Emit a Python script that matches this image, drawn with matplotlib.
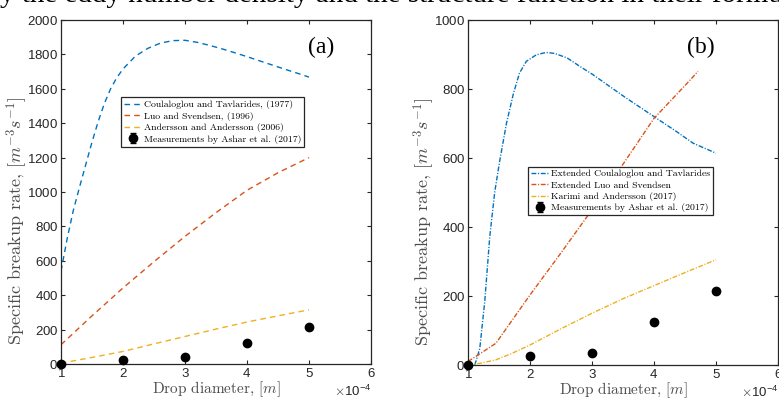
import matplotlib
matplotlib.use('Agg')
import matplotlib.pyplot as plt

plt.rcParams['mathtext.fontset'] = 'cm'
plt.rcParams['axes.formatter.use_mathtext'] = True
plt.rcParams['font.family'] = ['Liberation Sans', 'DejaVu Sans']

blue = '#0072BD'
orange = '#D95319'
yellow = '#EDB120'
dark = '#262626'

# drop diameter in m
# (a) original models
xa_cout = [1.0e-4, 1.1e-4, 1.2e-4, 1.3e-4, 1.4e-4, 1.5e-4, 1.6e-4, 1.7e-4, 1.8e-4, 1.9e-4, 2.0e-4,
           2.2e-4, 2.4e-4, 2.6e-4, 2.8e-4, 3.0e-4, 3.2e-4, 3.4e-4, 3.6e-4, 3.8e-4, 4.0e-4,
           4.2e-4, 4.4e-4, 4.6e-4, 4.8e-4, 5.0e-4]
ya_cout = [540, 730, 895, 1030, 1160, 1290, 1410, 1515, 1600, 1665, 1715,
           1790, 1835, 1865, 1880, 1882, 1870, 1852, 1832, 1810, 1787,
           1763, 1739, 1715, 1692, 1668]
xa_luo = [1e-4, 1.5e-4, 2e-4, 2.5e-4, 3e-4, 3.5e-4, 4e-4, 4.5e-4, 5e-4]
ya_luo = [112, 280, 442, 595, 742, 880, 1010, 1112, 1200]
xa_and = [1e-4, 1.5e-4, 2e-4, 2.5e-4, 3e-4, 3.5e-4, 4e-4, 4.5e-4, 5e-4]
ya_and = [5, 38, 73, 117, 160, 203, 244, 280, 315]

# (b) extended models
xb_cout = [1.11e-4, 1.19e-4, 1.27e-4, 1.35e-4, 1.43e-4, 1.51e-4, 1.62e-4, 1.73e-4, 1.83e-4, 1.94e-4,
           2.1e-4, 2.26e-4, 2.4e-4, 2.6e-4, 2.8e-4, 3.02e-4, 3.28e-4, 3.55e-4, 4.0e-4, 4.36e-4, 4.63e-4, 5.0e-4]
yb_cout = [0, 48, 184, 370, 500, 590, 700, 785, 846, 880,
           899, 906, 903, 890, 866, 841, 808, 774, 720, 677, 643, 614]
xb_luo = [1e-4, 1.45e-4, 2e-4, 2.5e-4, 3e-4, 3.5e-4, 4e-4, 4.5e-4, 4.71e-4]
yb_luo = [10, 63, 203, 325, 450, 582, 715, 810, 851]
xb_kar = [1e-4, 1.2e-4, 1.45e-4, 1.7e-4, 2e-4, 2.5e-4, 3e-4, 3.5e-4, 4e-4, 4.5e-4, 5e-4]
yb_kar = [0, 5, 15, 33, 58, 105, 150, 192, 230, 268, 305]

# measurements by Ashar et al. (2017)
x_meas = [1e-4, 2e-4, 3e-4, 4e-4, 5e-4]
ya_meas = [0, 25, 38, 125, 215]
yb_meas = [0, 26, 36, 126, 215]
err_meas = [0, 0, 0, 0, 0]

fig = plt.figure(figsize=(7.79, 3.98), dpi=100)
axa = fig.add_axes([61/779, 34/398, 310/779, 344/398])
axb = fig.add_axes([468/779, 33/398, 310/779, 345/398])

fig.text(0.0, 1 - 2/398, 'y the eddy number density and the structure function in their formulation',
         family='Liberation Serif', style='normal', weight='normal', fontsize=21,
         va='baseline', ha='left')


def style_axes(ax, ymax, ystep):
    ax.set_xlim(1e-4, 6e-4)
    ax.set_ylim(0, ymax)
    ax.set_xticks([1e-4, 2e-4, 3e-4, 4e-4, 5e-4, 6e-4])
    ax.set_yticks(range(0, ymax + 1, ystep))
    ax.ticklabel_format(axis='x', style='sci', scilimits=(0, 0))
    ax.tick_params(direction='in', top=True, right=True, length=3, width=0.8,
                   colors=dark, labelsize=9.5, pad=2)
    ax.xaxis.get_offset_text().set_fontsize(9.5)
    ax.xaxis.get_offset_text().set_color(dark)
    for s in ax.spines.values():
        s.set_color(dark)
        s.set_linewidth(0.9)
    ax.set_xlabel(r'Drop diameter, $[m]$', family='cmr10', fontsize=11, color='#4d4d4d', labelpad=0)
    ax.set_ylabel(r'Specific breakup rate, $[m^{-3}s^{-1}]$', family='cmr10', fontsize=13,
                  color='#4d4d4d')
    ax.yaxis.set_label_coords(-0.1, 0.415)


# (a)
dash = (4, 3)
axa.plot(xa_cout, ya_cout, color=blue, lw=1.0, dashes=dash, label='Coulaloglou and Tavlarides, (1977)')
axa.plot(xa_luo, ya_luo, color=orange, lw=1.0, dashes=dash, label='Luo and Svendsen, (1996)')
axa.plot(xa_and, ya_and, color=yellow, lw=1.0, dashes=dash, label='Andersson and Andersson (2006)')
axa.errorbar(x_meas, ya_meas, yerr=err_meas, fmt='o', color='black', ms=6, capsize=2,
             elinewidth=0.8, clip_on=False, zorder=5, label='Measurements by Ashar et al. (2017)')
style_axes(axa, 2000, 200)
axa.text(0.838, 0.92, '(a)', transform=axa.transAxes, family='Liberation Serif', fontsize=17,
         ha='center', va='center')
leg = axa.legend(loc='upper left', bbox_to_anchor=(0.195, 0.775), prop={'family': 'cmr10', 'size': 7},
                 fancybox=False, framealpha=1, edgecolor=dark, handlelength=1.8, handletextpad=0.2,
                 labelspacing=0.25, borderpad=0.3, borderaxespad=0)
leg.get_frame().set_linewidth(0.9)

# (b)
dashdot = (3.5, 1.2, 0.8, 1.2)
axb.plot(xb_cout, yb_cout, color=blue, lw=1.0, dashes=dashdot, label='Extended Coulaloglou and Tavlarides')
axb.plot(xb_luo, yb_luo, color=orange, lw=1.0, dashes=dashdot, label='Extended Luo and Svendsen')
axb.plot(xb_kar, yb_kar, color=yellow, lw=1.0, dashes=dashdot, label='Karimi and Andersson (2017)')
axb.errorbar(x_meas, yb_meas, yerr=err_meas, fmt='o', color='black', ms=6, capsize=2,
             elinewidth=0.8, clip_on=False, zorder=5, label='Measurements by Ashar et al. (2017)')
style_axes(axb, 1000, 200)
axb.text(0.75, 0.92, '(b)', transform=axb.transAxes, family='Liberation Serif', fontsize=17,
         ha='center', va='center')
leg = axb.legend(loc='upper left', bbox_to_anchor=(0.195, 0.575), prop={'family': 'cmr10', 'size': 7},
                 fancybox=False, framealpha=1, edgecolor=dark, handlelength=1.8, handletextpad=0.2,
                 labelspacing=0.25, borderpad=0.3, borderaxespad=0)
leg.get_frame().set_linewidth(0.9)

fig.savefig('out.png', dpi=100)
